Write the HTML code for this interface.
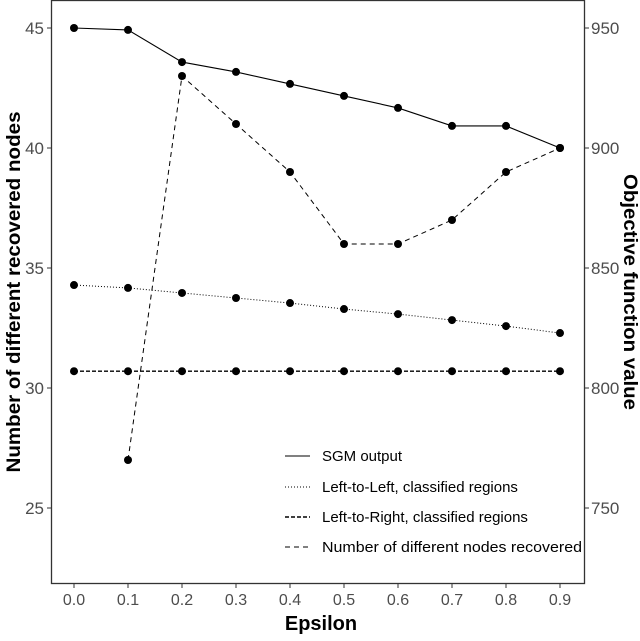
<!DOCTYPE html>
<html><head><meta charset="utf-8"><style>
body{margin:0;background:#fff}
svg text{font-family:"Liberation Sans",sans-serif}
</style></head><body>
<svg id="c" width="640" height="636" xmlns="http://www.w3.org/2000/svg">
<rect x="0" y="0" width="640" height="636" fill="#fff"/>
<rect x="51.5" y="0.5" width="533" height="583" fill="none" stroke="#333" stroke-width="1.3"/>
<g id="axes"></g>
<g id="series"></g>
<text x="321" y="630" font-size="20" font-weight="bold" text-anchor="middle">Epsilon</text>
<text transform="translate(20,292) rotate(-90)" font-size="19" font-weight="bold" text-anchor="middle" textLength="361" lengthAdjust="spacingAndGlyphs">Number of different recovered nodes</text>
<text transform="translate(624,292) rotate(90)" font-size="19" font-weight="bold" text-anchor="middle" textLength="236" lengthAdjust="spacingAndGlyphs">Objective function value</text>
<g font-size="15">
<line x1="285" y1="456" x2="310" y2="456" stroke="#000"/>
<text x="322" y="461">SGM output</text>
<line x1="285" y1="487" x2="310" y2="487" stroke="#000" stroke-dasharray="1,2"/>
<text x="322" y="492">Left-to-Left, classified regions</text>
<line x1="285" y1="517" x2="310" y2="517" stroke="#000" stroke-width="1.4" stroke-dasharray="4,2"/>
<text x="322" y="522">Left-to-Right, classified regions</text>
<line x1="285" y1="547" x2="310" y2="547" stroke="#000" stroke-dasharray="5,4"/>
<text x="322" y="552" textLength="260" lengthAdjust="spacingAndGlyphs">Number of different nodes recovered</text>
</g>
</svg>
<script>
const eps=[0,0.1,0.2,0.3,0.4,0.5,0.6,0.7,0.8,0.9];
const sgm=[950,949.2,935.8,931.7,926.7,921.7,916.7,909.2,909.2,900];
const ltl=[842.9,841.7,839.6,837.5,835.4,832.9,830.8,828.3,825.8,822.9];
const ltr=[807,807,807,807,807,807,807,807,807,807];
const nodesEps=[0.1,0.2,0.3,0.4,0.5,0.6,0.7,0.8,0.9];
const nodes=[27,43,41,39,36,36,37,39,40];
const xTicks=[0,0.1,0.2,0.3,0.4,0.5,0.6,0.7,0.8,0.9];
const yLeftTicks=[25,30,35,40,45];
const yRightTicks=[750,800,850,900,950];
const NS="http://www.w3.org/2000/svg";
const X=v=>74+v*540;
const YL=v=>28+(45-v)*24;
const YR=v=>28+(950-v)*2.4;
const ax=document.getElementById('axes'),se=document.getElementById('series');
function mk(p,t,a){const e=document.createElementNS(NS,t);for(const k in a)e.setAttribute(k,a[k]);p.appendChild(e);return e;}
xTicks.forEach(v=>{
 const l=mk(ax,'line',{x1:X(v),x2:X(v),y1:584,y2:588,stroke:'#333'});
 
 
 const t=mk(ax,'text',{x:X(v),y:605,'font-size':16,fill:'#4d4d4d','text-anchor':'middle'});
 t.textContent=v.toFixed(1);
 
 
});
yLeftTicks.forEach(v=>{
 const l=mk(ax,'line',{x1:47,x2:51,y1:YL(v),y2:YL(v),stroke:'#333'});
 
 
 const t=mk(ax,'text',{x:44,y:YL(v)+6,'font-size':17,fill:'#4d4d4d','text-anchor':'end'});
 t.textContent=v;
 
 
});
yRightTicks.forEach(v=>{
 const l=mk(ax,'line',{x1:585,x2:589,y1:YR(v),y2:YR(v),stroke:'#333'});
 
 
 const t=mk(ax,'text',{x:591,y:YR(v)+6,'font-size':17,fill:'#4d4d4d'});
 t.textContent=v;
 
 
});
function series(xs,ys,Y,dash,w,name){
 const p=mk(se,'polyline',{points:xs.map((x,i)=>X(x)+','+Y(ys[i])).join(' '),fill:'none',stroke:'#000','stroke-width':w,'stroke-dasharray':dash});
 
 
 xs.forEach((x,i)=>{
  const c=mk(se,'circle',{cx:X(x),cy:Y(ys[i]),r:4,fill:'#000'});
  
  
 });
}
series(eps,sgm,YR,'none',1.1,'sgm-output');
series(eps,ltl,YR,'1,2',1,'left-to-left');
series(eps,ltr,YR,'4,2',1.3,'left-to-right');
series(nodesEps,nodes,YL,'5,4',1,'nodes-recovered');
</script>
</body></html>
